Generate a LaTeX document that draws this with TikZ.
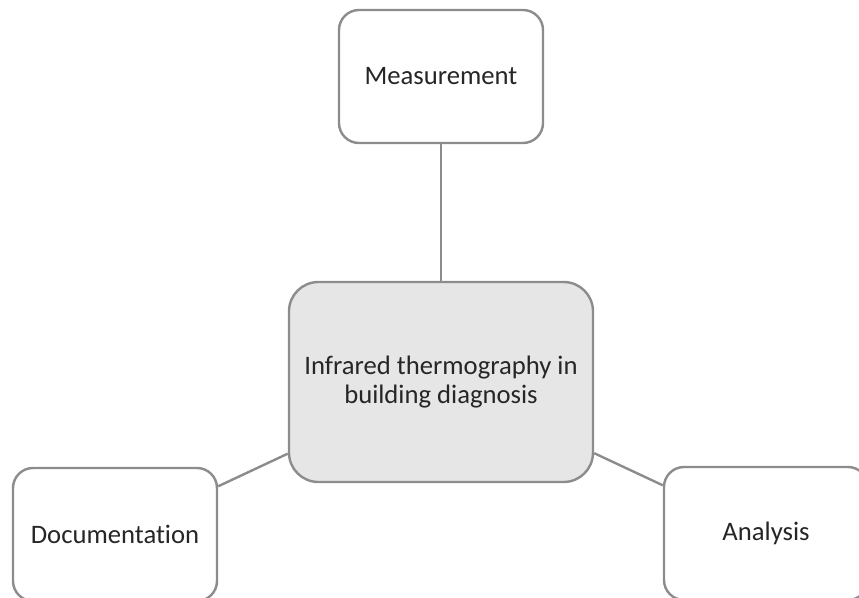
\documentclass[tikz,border=0pt]{standalone}
\usepackage{fontspec}
\setmainfont{Carlito}[Ligatures={NoCommon}]
\definecolor{edgegray}{HTML}{8C8C8C}
\definecolor{hubfill}{HTML}{E6E6E6}
\begin{document}
\begin{tikzpicture}[x=0.75pt, y=-0.75pt,
  leaf/.style={draw=edgegray, line width=1.8pt, fill=white, rounded corners=15pt,
    minimum width=153pt, minimum height=99.75pt, inner sep=0pt,
    font=\fontsize{20}{21.8}\selectfont, text=black!85},
  hub/.style={draw=edgegray, line width=1.8pt, fill=hubfill, rounded corners=22pt,
    minimum width=228pt, minimum height=150pt, inner sep=0pt, align=center,
    font=\fontsize{20}{21.8}\selectfont, text=black!85},
  link/.style={draw=edgegray, line width=1.8pt}]
  \useasboundingbox (0,0) rectangle (859,598);
  \clip (0,0) rectangle (859,598);

  \node[hub]  (hub)  at (441,382)   {Infrared thermography in\\building diagnosis};
  \node[leaf] (meas) at (441,76.5)  {Measurement};
  \node[leaf] (doc)  at (115,534.5) {Documentation};
  \node[leaf] (ana)  at (766,533.5) {Analysis};

  \draw[link] (meas) -- (hub);
  \draw[link] (doc) -- (hub);
  \draw[link] (ana) -- (hub);
\end{tikzpicture}
\end{document}
